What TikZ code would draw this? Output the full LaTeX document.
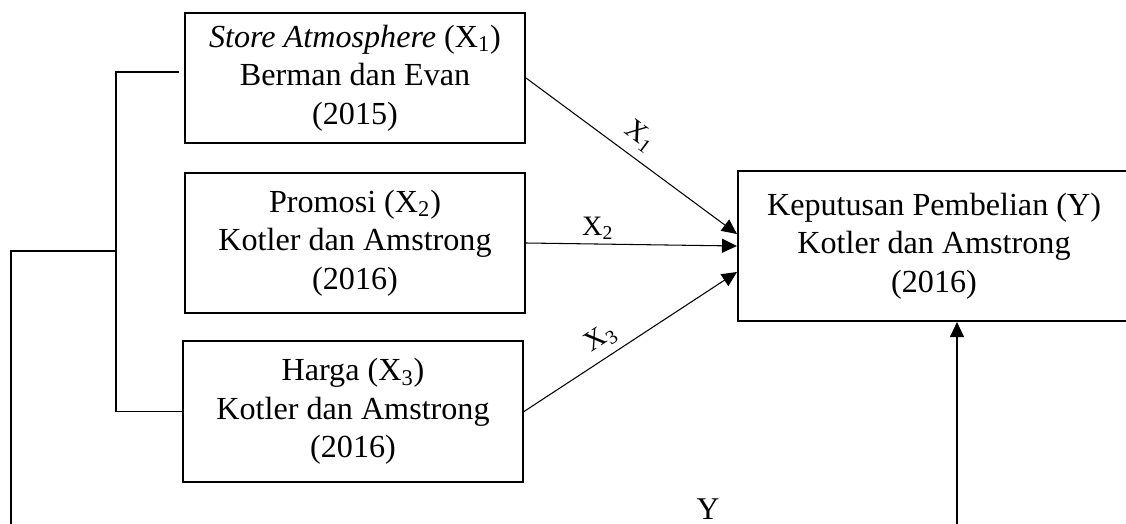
\documentclass[tikz,border=0pt]{standalone}
\usepackage{fontspec}
\setmainfont{Liberation Serif}
\usetikzlibrary{arrows.meta, positioning, calc}

\tikzset{
    box/.style={draw, line width=1.2pt, inner sep=0pt, align=center,
        minimum width=6.8cm, font=\fontsize{18.3}{22}\selectfont},
    arr/.style={-{Triangle[length=0.3cm, width=0.28cm]}, line width=0.6pt},
    lbl/.style={font=\fontsize{16}{18}\selectfont, inner sep=2pt},
    link/.style={line width=0.7pt}
}

\begin{document}
\begin{tikzpicture}[x=0.02cm, y=-0.02cm]
    \useasboundingbox (0,0) rectangle (1126,524);

    % Boxes
    \node [box, minimum height=2.6cm] (b1) at (355, 78)
        {\textit{Store Atmosphere} (X\textsubscript{1})\\Berman dan Evan\\(2015)};
    \node [box, minimum height=2.8cm] (b2) at (355, 243)
        {Promosi (X\textsubscript{2})\\Kotler dan Amstrong\\(2016)};
    \node [box, minimum height=2.82cm] (b3) at (353, 411.5)
        {Harga (X\textsubscript{3})\\Kotler dan Amstrong\\(2016)};
    \node [box, minimum width=7.84cm, minimum height=3cm] (y) at (934, 246)
        {Keputusan Pembelian (Y)\\Kotler dan Amstrong\\(2016)};

    % Arrows to Y
    \draw [arr] (b1.east) -- node[lbl, sloped, above=3pt, pos=0.48] {X\textsubscript{1}} ([yshift=0.24cm]y.west);
    \draw [arr] (b2.east) -- node[lbl, above, pos=0.34] {X\textsubscript{2}} (y.west);
    \draw [arr] (b3.east) -- node[lbl, sloped, above=2pt, pos=0.41] {X\textsubscript{3}} ([yshift=-0.52cm]y.west);

    % Bracket on the left
    \coordinate (t1) at (179, 72);
    \coordinate (bk) at (116, 251);
    \coordinate (lf) at (11, 251);
    \coordinate (lb) at (11, 530);
    \draw [link] (t1) -- (t1 -| bk) -- (bk |- b3.west) -- (b3.west);
    \draw [link] (bk) -- (lf) -- (lb);

    % Arrow from below
    \coordinate (yb) at (957, 530);
    \draw [arr] (yb) -- (yb |- y.south);
    \node [lbl, font=\fontsize{18}{20}\selectfont] (ylab) at (708, 509) {Y};

\end{tikzpicture}
\end{document}
